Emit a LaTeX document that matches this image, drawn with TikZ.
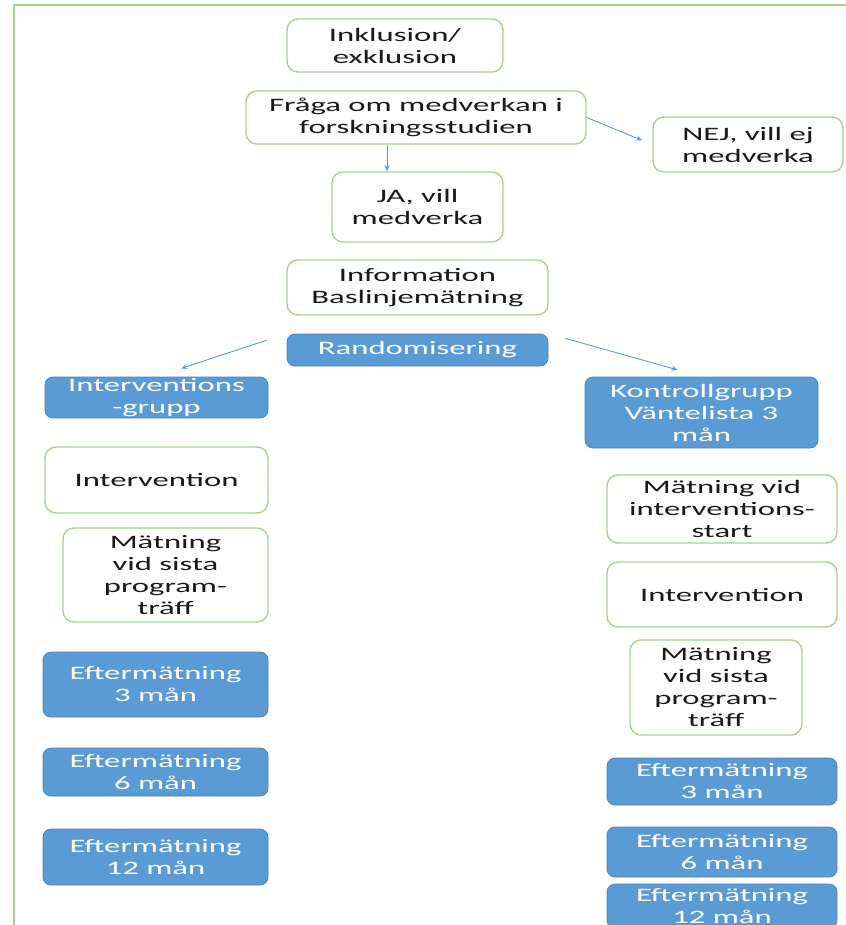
\documentclass[tikz,border=0pt]{standalone}
\usepackage{fontspec}
\setmainfont{Carlito}[FakeStretch=1.72]
\usepackage{xcolor}
\usetikzlibrary{arrows.meta}
\definecolor{ramgron}{HTML}{A9D18E}
\definecolor{blabla}{HTML}{5B9BD5}
\tikzset{
    vitbox/.style={draw=ramgron, line width=1.4pt, fill=white, rounded corners=11pt, align=center,
        inner sep=0pt, text=black!90, font=\fontsize{19}{22}\selectfont},
    blabox/.style={draw=blabla!85!black, line width=0.8pt, fill=blabla, rounded corners=8pt, align=center,
        inner sep=0pt, text=white, font=\fontsize{19}{22}\selectfont},
    pil/.style={draw=blabla, line width=0.9pt}
}

\begin{document}
\begin{tikzpicture}[x=1pt, y=-1pt, >={Stealth[length=6pt,width=5pt]}]
        \useasboundingbox (0,0) rectangle (845,925);
        % Ram
        \draw[ramgron, line width=2pt] (14,940) -- (14,5) -- (850,5);

        % Övre del
        \node[vitbox, minimum width=216, minimum height=53] (incl) at (395,45.5) {Inklusion/\\exklusion};
        \node[vitbox, minimum width=340, minimum height=53] (fraga) at (416,117.5) {Fråga om medverkan i\\forskningsstudien};
        \node[vitbox, minimum width=171, minimum height=70] (ja) at (417.5,207) {JA, vill\\medverka};
        \node[vitbox, minimum width=190, minimum height=55] (nej) at (748,144.5) {NEJ, vill ej\\medverka};
        \node[vitbox, minimum width=261, minimum height=55] (info) at (417.5,287.5) {Information\\Baslinjemätning};
        \node[blabox, minimum width=261, minimum height=32] (rand) at (417.5,350) {Randomisering};

        % Interventionsgrupp
        \node[blabox, minimum width=223, minimum height=41] (intgrp) at (156.5,397.5) {Interventions\\-grupp};
        \node[vitbox, minimum width=223, minimum height=66] (intL) at (156.5,480) {Intervention};
        \node[vitbox, minimum width=205, minimum height=94] (matL) at (165.5,575) {Mätning\\vid sista\\program-\\träff};
        \node[blabox, minimum width=225, minimum height=65] (eft3L) at (155.5,684.5) {Eftermätning\\3 mån};
        \node[blabox, minimum width=225, minimum height=48] (eft6L) at (155.5,772) {Eftermätning\\6 mån};
        \node[blabox, minimum width=225, minimum height=56] (eft12L) at (155.5,857) {Eftermätning\\12 mån};

        % Kontrollgrupp
        \node[blabox, minimum width=233, minimum height=71] (kontroll) at (701.5,412.5) {Kontrollgrupp\\Väntelista 3\\mån};
        \node[vitbox, minimum width=230, minimum height=68] (matstart) at (722,509) {Mätning vid\\interventions-\\start};
        \node[vitbox, minimum width=230, minimum height=65] (intR) at (722,594.5) {Intervention};
        \node[vitbox, minimum width=172, minimum height=95] (matR) at (716,687.5) {Mätning\\vid sista\\program-\\träff};
        \node[blabox, minimum width=230, minimum height=47] (eft3R) at (722,781.5) {Eftermätning\\3 mån};
        \node[blabox, minimum width=230, minimum height=50] (eft6R) at (722,852) {Eftermätning\\6 mån};
        \node[blabox, minimum width=230, minimum height=44] (eft12R) at (722,906) {Eftermätning\\12 mån};

        % Pilar
        \path[->] ([xshift=-29pt]fraga.south) edge[pil] ([xshift=-30.5pt]ja.north);
        \path[->] (fraga.east) edge[pil, shorten >=11pt] (nej.west);
        \path[->] (rand.north west) edge[pil, shorten <=21pt, shorten >=26pt] (intgrp.north);
        \path[->] (rand.north east) edge[pil, shorten <=18pt, shorten >=25pt] (kontroll.north);
    \end{tikzpicture}
\end{document}
